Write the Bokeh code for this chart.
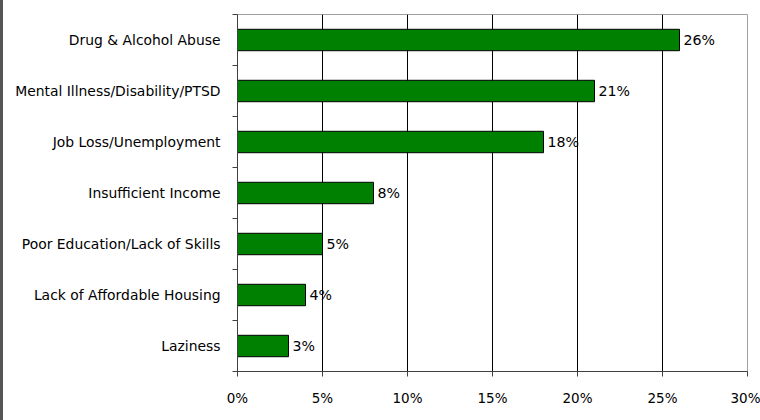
from bokeh.plotting import figure
from bokeh.models import ColumnDataSource, FixedTicker, Range1d, LabelSet
from bokeh.core.properties import value
from bokeh.embed import file_html
from bokeh.resources import INLINE

categories = ["Drug & Alcohol Abuse", "Mental Illness/Disability/PTSD", "Job Loss/Unemployment",
              "Insufficient Income", "Poor Education/Lack of Skills", "Lack of Affordable Housing",
              "Laziness"]
values = [26, 21, 18, 8, 5, 4, 3]
x_ticks = [0, 5, 10, 15, 20, 25, 30]
x_tick_labels = ["0%", "5%", "10%", "15%", "20%", "25%", "30%"]

FONT = "DejaVu Sans"
FS = "13.9px"

n = len(categories)
ypos = [n - i - 0.5 for i in range(n)]
labels = [f"{v}%" for v in values]

src = ColumnDataSource(dict(y=ypos, v=values, lab=labels, cat=categories))

p = figure(width=760, height=420, output_backend="svg", toolbar_location=None,
           x_range=Range1d(0, 30), y_range=Range1d(0, n),
           min_border_left=234, min_border_right=16, min_border_top=14, min_border_bottom=49)
p.styles = {"border-left": "3px solid #555555", "box-sizing": "border-box"}

p.hbar(y="y", right="v", left=0, height=0.42, source=src,
       fill_color="#008000", line_color="#000000", line_width=1)

lbl = LabelSet(x="v", y="y", text="lab", source=src, x_offset=4, y_offset=0,
               text_baseline="middle", text_font=value(FONT), text_font_size=value("14.2px"),
               text_color="#000000")
p.add_layout(lbl)

p.outline_line_color = "#a0a0a0"
p.outline_line_width = 1

# x axis
p.xaxis.ticker = FixedTicker(ticks=x_ticks)
p.xaxis.major_label_overrides = {t: l for t, l in zip(x_ticks, x_tick_labels)}
p.xaxis.major_tick_in = 0
p.xaxis.major_tick_out = 5
p.xaxis.minor_tick_line_color = None
p.xaxis.axis_line_color = "#404040"
p.xaxis.major_tick_line_color = "#404040"
p.xaxis.major_label_text_font = FONT
p.xaxis.major_label_text_font_size = "13.5px"
p.xaxis.major_label_text_color = "#000000"
p.xaxis.major_label_standoff = 13

# y axis
p.yaxis.ticker = FixedTicker(ticks=ypos, minor_ticks=list(range(n + 1)))
p.yaxis.major_label_overrides = {y: c for y, c in zip(ypos, categories)}
p.yaxis.major_tick_in = 0
p.yaxis.major_tick_out = 0
p.yaxis.minor_tick_in = 0
p.yaxis.minor_tick_out = 5
p.yaxis.axis_line_color = "#404040"
p.yaxis.minor_tick_line_color = "#404040"
p.yaxis.major_label_text_font = FONT
p.yaxis.major_label_text_font_size = FS
p.yaxis.major_label_text_color = "#000000"
p.yaxis.major_label_standoff = 12

p.xgrid.ticker = FixedTicker(ticks=[5, 10, 15, 20, 25])
p.xgrid.grid_line_color = "#000000"
p.xgrid.grid_line_width = 1
p.ygrid.grid_line_color = None

open("out.html", "w").write(file_html(p, INLINE))
